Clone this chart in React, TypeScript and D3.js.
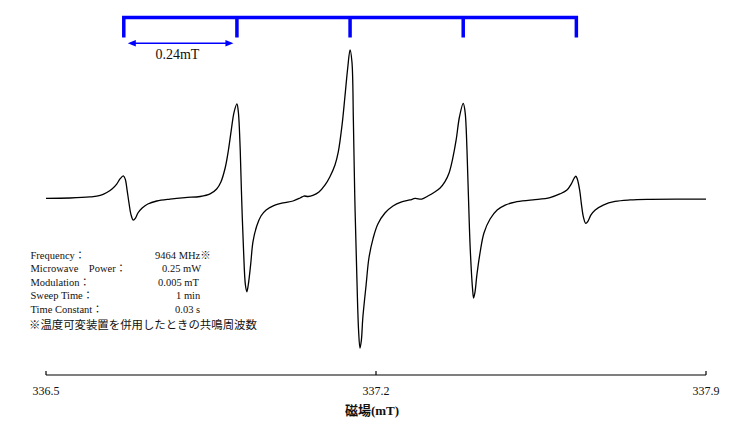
import React from "react";
import * as d3 from "d3";

// ESR spectrum: magnetic field (mT) and first-derivative signal (arb. units)
const fieldMT = [
  336.5, 336.551, 336.593, 336.615, 336.629, 336.64, 336.65, 336.657, 336.664, 336.668,
  336.672, 336.676, 336.68, 336.685, 336.69, 336.695, 336.704, 336.716, 336.735, 336.763,
  336.795, 336.827, 336.848, 336.862, 336.871, 336.88, 336.887, 336.893, 336.899, 336.905,
  336.908, 336.912, 336.915, 336.919, 336.923, 336.926, 336.929, 336.934, 336.939, 336.947,
  336.956, 336.967, 336.982, 337.003, 337.024, 337.039, 337.047, 337.056, 337.066, 337.079,
  337.092, 337.102, 337.113, 337.12, 337.128, 337.134, 337.14, 337.145, 337.149, 337.152,
  337.155, 337.159, 337.163, 337.166, 337.169, 337.172, 337.179, 337.185, 337.194, 337.204,
  337.219, 337.236, 337.253, 337.272, 337.283, 337.297, 337.31, 337.323, 337.336, 337.346,
  337.355, 337.362, 337.37, 337.377, 337.385, 337.389, 337.393, 337.396, 337.4, 337.405,
  337.407, 337.41, 337.414, 337.421, 337.429, 337.442, 337.457, 337.474, 337.495, 337.533,
  337.569, 337.59, 337.605, 337.614, 337.62, 337.624, 337.627, 337.632, 337.636, 337.64,
  337.645, 337.65, 337.656, 337.665, 337.682, 337.707, 337.739, 337.781, 337.9,
];
const signal = [
  -0.2, 0, 0.7, 1.7, 3.7, 6, 9.3, 12.7, 14.7, 12.7,
  5.3, -3.3, -10.7, -14.7, -13.3, -10, -6.7, -4, -2, -0.7,
  0.3, 1, 2.7, 6, 10.7, 20, 32, 45.3, 57.3, 62.7,
  57.3, 32, 0, -34.7, -58, -62.5, -58, -44.7, -29.3, -18.7,
  -12, -8, -5.3, -3.3, -2, 0, 1.3, 1, 1.7, 4,
  8.7, 14, 22, 30.7, 48.7, 67.3, 86.7, 98.7, 90.7, 52,
  0.7, -48, -88, -100, -94.7, -80, -58, -40, -26.7, -17.3,
  -10, -5.3, -2.7, -1.3, -0.3, -0.7, 1.3, 3.7, 6.7, 10.7,
  16.7, 25.3, 38.7, 54, 63.1, 57.3, 32, 2, -34.7, -61.3,
  -66.7, -62.7, -51.3, -36, -23.3, -14, -8, -4.7, -2.7, -1.3,
  0.3, 2.7, 5.3, 9.3, 13, 14.5, 12.7, 5.3, -4.7, -12.7,
  -16.9, -15.3, -11.3, -8, -4.7, -2.3, -1.3, -0.9, -0.7,
];

// Hyperfine line positions (stick diagram) and their spacing
const hyperfineLines = [336.665, 336.905, 337.145, 337.385, 337.625];
const couplingLabel = "0.24mT";

// Field axis
const axisTicks = [336.5, 337.2, 337.9];
const axisTickLabels = ["336.5", "337.2", "337.9"];
const axisTitle = "磁場(mT)";

// Measurement conditions
const paramNames = ["Frequency", "Microwave\u2003Power", "Modulation", "Sweep Time", "Time Constant"];
const paramValues = ["9464 MHz※", "0.25 mW", "0.005 mT", "1 min", "0.03 s"];
const paramValueX = [155, 162, 158, 176, 175];
const footnote = "※温度可変装置を併用したときの共鳴周波数";

const W = 747;
const H = 422;
const serif = "'Liberation Serif', 'Times New Roman', 'Noto Sans CJK JP', serif";
const blue = "#0000ff";

export default function App() {
  const x = d3.scaleLinear().domain([336.5, 337.9]).range([46, 706]);
  const y = d3.scaleLinear().domain([-100, 100]).range([348, 48]);

  const points: [number, number][] = fieldMT.map((f, i) => [f, signal[i]]);
  const spectrumPath =
    d3
      .line<[number, number]>()
      .x((d) => x(d[0]))
      .y((d) => y(d[1]))
      .curve(d3.curveCatmullRom.alpha(0.5))(points) ?? "";

  // stick bracket
  const barY = 17.5;
  const stickBottom = 37.5;
  const first = x(hyperfineLines[0]);
  const last = x(hyperfineLines[hyperfineLines.length - 1]);
  const bracketPath =
    `M${first},${stickBottom}V${barY}H${last}V${stickBottom}` +
    hyperfineLines
      .slice(1, -1)
      .map((f) => `M${x(f)},${barY}V${stickBottom}`)
      .join("");

  // spacing arrow between first two lines
  const arrowY = 43.3;
  const a0 = x(hyperfineLines[0]) + 4;
  const a1 = x(hyperfineLines[1]) - 3.5;
  const head = 8;
  const half = 3.3;

  const axisY = 375;
  const [r0, r1] = x.range();
  const rowY = (i: number) => 258.5 + i * 13.5;

  return (
    <svg
      width={W}
      height={H}
      viewBox={`0 0 ${W} ${H}`}
      style={{ position: "absolute", left: 0, top: 0, background: "#fff" }}
    >
      <rect width={W} height={H} fill="#fff" />

      {/* stick diagram */}
      <path d={bracketPath} fill="none" stroke={blue} strokeWidth={3.5} strokeLinejoin="miter" />
      <line x1={a0 + head - 1} x2={a1 - head + 1} y1={arrowY} y2={arrowY} stroke={blue} strokeWidth={1.6} />
      <path d={`M${a0},${arrowY}L${a0 + head},${arrowY - half}L${a0 + head},${arrowY + half}Z`} fill={blue} />
      <path d={`M${a1},${arrowY}L${a1 - head},${arrowY - half}L${a1 - head},${arrowY + half}Z`} fill={blue} />
      <text
        x={(x(hyperfineLines[0]) + x(hyperfineLines[1])) / 2 - 3}
        y={58.5}
        textAnchor="middle"
        fontFamily={serif}
        fontSize={14}
        fill="#111"
      >
        {couplingLabel}
      </text>

      {/* spectrum */}
      <path d={spectrumPath} fill="none" stroke="#000" strokeWidth={1.3} strokeLinejoin="round" />

      {/* conditions */}
      {paramNames.map((n, i) => (
        <g key={n} fontFamily={serif} fontSize={10.5} fill="#111">
          <text x={30.5} y={rowY(i)}>
            {n}
            <tspan fontFamily="'Noto Sans CJK JP', sans-serif">：</tspan>
          </text>
          <text x={paramValueX[i]} y={rowY(i)}>
            {paramValues[i]}
          </text>
        </g>
      ))}
      <text x={29} y={328.5} fontFamily="'Noto Sans CJK JP', sans-serif" fontSize={11.4} fill="#111">
        {footnote}
      </text>

      {/* field axis */}
      <line x1={r0} x2={r1} y1={axisY} y2={axisY} stroke="#000" strokeWidth={1.2} />
      {axisTicks.map((t, i) => (
        <g key={t}>
          <line x1={x(t)} x2={x(t)} y1={axisY} y2={axisY - 4} stroke="#000" strokeWidth={1.2} />
          <text x={x(t)} y={394.5} textAnchor="middle" fontFamily={serif} fontSize={12} fill="#111">
            {axisTickLabels[i]}
          </text>
        </g>
      ))}
      <text
        x={x(337.2) - 4}
        y={415}
        textAnchor="middle"
        fontFamily={serif}
        fontSize={13}
        fontWeight="bold"
        fill="#111"
      >
        {axisTitle}
      </text>
    </svg>
  );
}
